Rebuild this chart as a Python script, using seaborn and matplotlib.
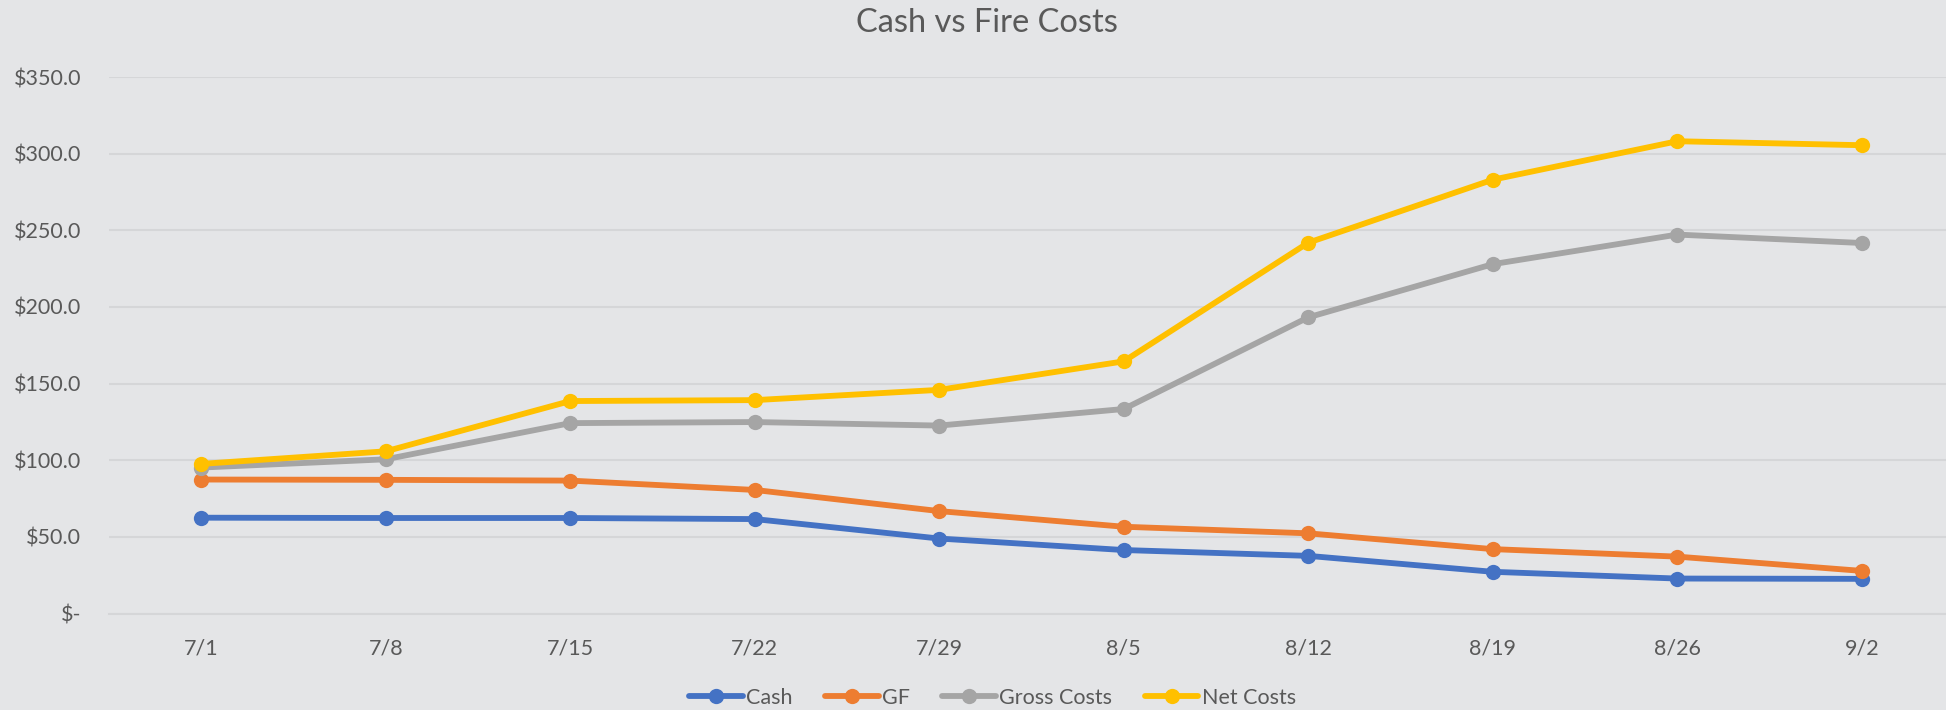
import pandas as pd
import matplotlib
matplotlib.use("Agg")
import matplotlib.pyplot as plt
import seaborn as sns
from matplotlib.ticker import FuncFormatter, FixedLocator

# data
weeks = ["7/1", "7/8", "7/15", "7/22", "7/29", "8/5", "8/12", "8/19", "8/26", "9/2"]
cash = [62.5, 62.3, 62.3, 61.6, 48.9, 41.4, 37.6, 27.2, 22.8, 22.6]
gf = [87.4, 87.2, 86.7, 80.6, 66.8, 56.6, 52.3, 42.0, 37.1, 27.8]
gross_costs = [95.2, 100.6, 124.2, 124.9, 122.6, 133.4, 193.2, 227.9, 247.2, 241.7]
net_costs = [97.6, 105.8, 138.6, 139.2, 145.9, 164.5, 241.9, 283.0, 308.1, 305.5]

series_names = ["Cash", "GF", "Gross Costs", "Net Costs"]
colors = ["#4472C4", "#ED7D31", "#A5A5A5", "#FFC000"]

rows = []
for name, vals in zip(series_names, [cash, gf, gross_costs, net_costs]):
    for i, (w, v) in enumerate(zip(weeks, vals)):
        rows.append({"pos": i, "week": w, "series": name, "value": v})
df = pd.DataFrame(rows)

bg = "#E4E5E7"
text_col = "#595959"
grid_col = "#D5D6D8"
lw = 4.2
ms = 11

sns.set_theme(style="white")
plt.rcParams["font.family"] = ["Lato", "DejaVu Sans"]

fig = plt.figure(figsize=(19.46, 7.10), dpi=100, facecolor=bg)
ax = fig.add_axes([109 / 1946, 96.5 / 710, 1845 / 1946, 536.5 / 710])
ax.set_facecolor(bg)

sns.lineplot(data=df, x="pos", y="value", hue="series", hue_order=series_names,
             palette=colors, marker="o", markersize=ms, markeredgewidth=0,
             linewidth=lw, sort=False, ax=ax, legend=False, zorder=3)

ax.set_xlim(-0.5, len(weeks) - 0.5)
ax.set_ylim(0, 350)
ax.set_yticks(range(0, 351, 50))
ax.yaxis.set_major_formatter(FuncFormatter(lambda v, p: "$-" if v == 0 else f"${v:.1f}"))
ax.set_xticks(range(len(weeks)))
ax.set_xticklabels(weeks)
ax.xaxis.set_minor_locator(FixedLocator([i - 0.5 for i in range(len(weeks) + 1)]))

ax.grid(axis="y", color=grid_col, linewidth=1.5)
ax.set_axisbelow(True)
for s in ["top", "right", "left"]:
    ax.spines[s].set_visible(False)
ax.spines["bottom"].set_color(grid_col)
ax.spines["bottom"].set_linewidth(1.5)

ax.tick_params(axis="y", length=0, pad=20, labelsize=15.5, labelcolor=text_col)
ax.tick_params(axis="x", which="major", length=0, pad=18, labelsize=15.5, labelcolor=text_col)
ax.tick_params(axis="x", which="minor", length=6, width=1.5, color=grid_col)
ax.set_xlabel("")
ax.set_ylabel("")

fig.text(0.507, 1 - 23 / 710, "Cash vs Fire Costs", ha="center", va="center",
         fontsize=23.5, color=text_col)

handles = [plt.Line2D([], [], color=c, linewidth=lw, marker="o", markersize=ms,
                      markeredgewidth=0) for c in colors]
fig.legend(handles, series_names, loc="center", bbox_to_anchor=(0.51, 1 - 698 / 710),
           ncol=4, frameon=False, fontsize=15.5, labelcolor=text_col,
           handlelength=2.5, handletextpad=0.15, columnspacing=1.5)

fig.savefig("out.png", dpi=100, facecolor=bg)
